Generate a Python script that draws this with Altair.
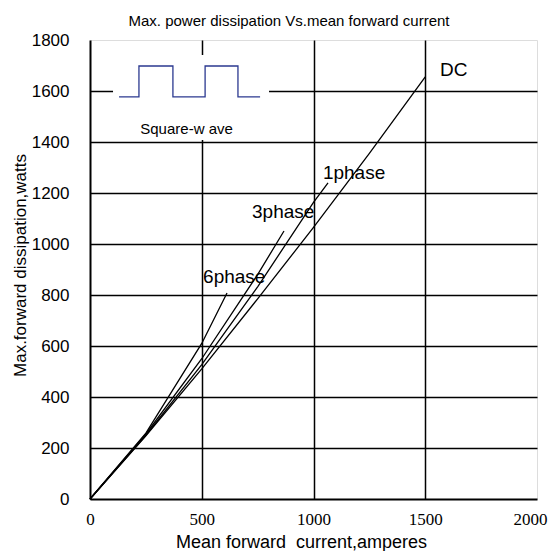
import altair as alt
import pandas as pd

# ---- data ----
dc_i = [0, 250, 500, 750, 1000, 1250, 1500]
dc_p = [0, 248, 510, 785, 1065, 1355, 1655]
p1_i = [0, 250, 500, 750, 1000, 1065]
p1_p = [0, 250, 527, 832, 1163, 1240]
p3_i = [0, 250, 500, 750, 868]
p3_p = [0, 255, 550, 880, 1051]
p6_i = [0, 250, 500, 613]
p6_p = [0, 258, 610, 808]

label_text = ["DC", "1phase", "3phase", "6phase"]
label_i = [1566, 1042, 725, 506]
label_p = [1659, 1255, 1102, 847]

# square-wave inset
wave_i = [130, 219, 219, 371, 371, 515, 515, 662, 662, 761]
wave_p = [1577, 1577, 1698, 1698, 1577, 1577, 1698, 1698, 1577, 1577]
inset_i = [103]
inset_i2 = [801]
inset_p = [1408]
inset_p2 = [1741]
inset_text = ["Square-w ave"]
inset_text_i = [432]
inset_text_p = [1452]

chart_title = ["Max. power dissipation Vs.mean forward current"]

x_ticks = [0, 500, 1000, 1500, 2000]
y_ticks = [0, 200, 400, 600, 800, 1000, 1200, 1400, 1600, 1800]

rows = []
for name, xs, ys in [("DC", dc_i, dc_p), ("1phase", p1_i, p1_p),
                     ("3phase", p3_i, p3_p), ("6phase", p6_i, p6_p)]:
    for k, (a, b) in enumerate(zip(xs, ys)):
        rows.append({"series": name, "I": a, "P": b, "k": k})
lines_df = pd.DataFrame(rows)
labels_df = pd.DataFrame({"t": label_text, "I": label_i, "P": label_p})
wave_df = pd.DataFrame({"I": wave_i, "P": wave_p, "k": list(range(len(wave_i)))})
inset_df = pd.DataFrame({"I": inset_i, "I2": inset_i2, "P": inset_p, "P2": inset_p2})
inset_text_df = pd.DataFrame({"t": inset_text, "I": inset_text_i, "P": inset_text_p})
title_df = pd.DataFrame({"t": chart_title})

SANS = "Liberation Sans"

x_axis = alt.Axis(
    values=x_ticks, format="d", title="Mean forward\u00a0 current,amperes",
    labelFont="Liberation Serif", labelFontSize=17, labelColor="black",
    labelPadding=12, ticks=False, domainColor="black", domainWidth=2,
    labelOffset={"condition": {"test": "datum.value === 2000", "value": -7}, "value": 0},
    grid=True, gridColor="black", gridWidth=1.5,
    gridOpacity={"condition": {"test": "datum.value === 0 || datum.value === 2000", "value": 0}, "value": 1},
    titleFont=SANS, titleFontSize=18, titleFontWeight="normal", titleColor="black",
    titleX=211, titleY=48, titleBaseline="alphabetic", titleAlign="center",
    labelFlush=False,
)
y_axis = alt.Axis(
    values=y_ticks, format="d", title="Max.forward dissipation,watts",
    labelFont=SANS, labelFontSize=17, labelColor="black",
    labelPadding=21, ticks=False, domainColor="black", domainWidth=2,
    grid=True, gridColor="black", gridWidth=1.5,
    gridOpacity={"condition": {"test": "datum.value === 0 || datum.value === 1800", "value": 0}, "value": 1},
    titleFont=SANS, titleFontSize=17, titleFontWeight="normal", titleColor="black",
    titleAngle=270, titleX=-70, titleY=225, titleAlign="center", titleBaseline="middle",
    labelFlush=False,
)

xs = alt.Scale(domain=[0, 2000], nice=False)
ys = alt.Scale(domain=[0, 1800], nice=False)


def X(field="I"):
    return alt.X(f"{field}:Q", scale=xs, axis=x_axis)


def Y(field="P"):
    return alt.Y(f"{field}:Q", scale=ys, axis=y_axis)


lines = alt.Chart(lines_df).mark_line(color="black", strokeWidth=1.3).encode(
    x=X(), y=Y(), detail="series:N", order="k:Q")

inset_bg = alt.Chart(inset_df).mark_rect(color="white").encode(
    x=X(), x2="I2:Q", y=Y(), y2="P2:Q")

wave = alt.Chart(wave_df).mark_line(color="#2b3990", strokeWidth=1.3).encode(
    x=X(), y=Y(), order="k:Q")

inset_label = alt.Chart(inset_text_df).mark_text(
    font=SANS, fontSize=15, color="black", align="center", baseline="middle").encode(
    x=X(), y=Y(), text="t:N")

labels = alt.Chart(labels_df).mark_text(
    font=SANS, fontSize=19, color="black", align="left", baseline="alphabetic").encode(
    x=X(), y=Y(), text="t:N")

title = alt.Chart(title_df).mark_text(
    font=SANS, fontSize=15, color="black", align="center", baseline="alphabetic").encode(
    x=alt.value(199), y=alt.value(-14), text="t:N")

chart = alt.layer(lines, inset_bg, wave, inset_label, labels, title).properties(
    width=447, height=459,
    autosize=alt.AutoSizeParams(type="none"),
    padding={"left": 82, "top": 32, "right": 12, "bottom": 52},
).configure_view(stroke="#888888", strokeWidth=2).configure(background="white")

chart.save("out.html", embed_options={"renderer": "svg", "actions": False})
